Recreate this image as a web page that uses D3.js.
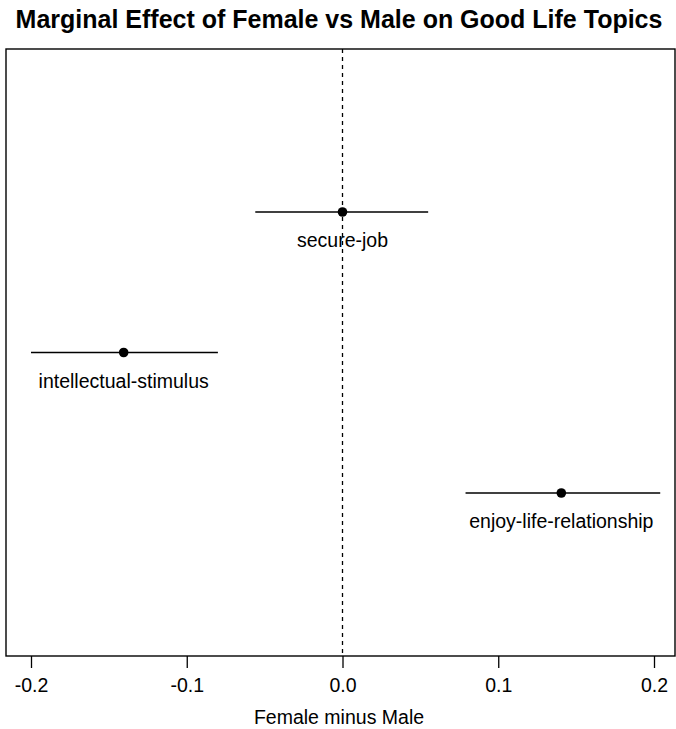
<!DOCTYPE html>
<html>
<head>
<meta charset="utf-8">
<script src="https://cdn.jsdelivr.net/npm/d3@7"></script>
<style>
  body { margin: 0; background: #fff; }
  text { font-family: "Liberation Sans", Arial, sans-serif; fill: #000; }
</style>
</head>
<body>
<svg id="chart" width="676" height="729"></svg>
<script>
// values
const topics = ["secure-job", "intellectual-stimulus", "enjoy-life-relationship"];
const estimates = [0.0, -0.1405, 0.1405];
const lower = [-0.056, -0.2, 0.079];
const upper = [0.055, -0.08, 0.204];
const xTicks = [-0.2, -0.1, 0.0, 0.1, 0.2];

const svg = d3.select("#chart");
const box = { left: 6, right: 675, top: 49, bottom: 656 };

const x = d3.scaleLinear().domain([-0.2, 0.2]).range([31, 654]);
const y = d3.scaleLinear().domain([-0.16, 4.16]).range([box.top, box.bottom]);

// title
svg.append("text")
    .attr("x", 339).attr("y", 28)
    .attr("text-anchor", "middle")
    .style("font-size", "25px").style("font-weight", "bold")
    .text("Marginal Effect of Female vs Male on Good Life Topics");

// zero reference line
svg.append("line")
    .attr("x1", x(0)).attr("x2", x(0))
    .attr("y1", box.top).attr("y2", box.bottom)
    .attr("stroke", "#000").attr("stroke-width", 1.3)
    .attr("stroke-dasharray", "4,4");

const rows = svg.append("g").selectAll("g")
    .data(topics)
    .enter().append("g");

rows.append("line")
    .attr("x1", (d, i) => x(lower[i]))
    .attr("x2", (d, i) => x(upper[i]))
    .attr("y1", (d, i) => y(i + 1))
    .attr("y2", (d, i) => y(i + 1))
    .attr("stroke", "#000").attr("stroke-width", 1.4);

rows.append("circle")
    .attr("cx", (d, i) => x(estimates[i]))
    .attr("cy", (d, i) => y(i + 1))
    .attr("r", 4.8)
    .attr("fill", "#000");

rows.append("text")
    .attr("x", (d, i) => x(estimates[i]))
    .attr("y", (d, i) => y(i + 1) + 35)
    .attr("text-anchor", "middle")
    .style("font-size", "19.5px")
    .text(d => d);

// frame
svg.append("rect")
    .attr("x", box.left).attr("y", box.top)
    .attr("width", box.right - box.left).attr("height", box.bottom - box.top)
    .attr("fill", "none").attr("stroke", "#000").attr("stroke-width", 1.4);

// x axis
const axis = svg.append("g")
    .attr("transform", `translate(0,${box.bottom})`)
    .call(d3.axisBottom(x).tickValues(xTicks).tickFormat(d3.format(".1f"))
        .tickSize(12).tickPadding(10));
axis.select(".domain").remove();
axis.selectAll(".tick line").attr("stroke", "#000").attr("stroke-width", 1.3);
axis.selectAll(".tick text")
    .style("font-family", "'Liberation Sans', Arial, sans-serif")
    .style("font-size", "19.5px")
    .text(d => d3.format(".1f")(d).replace("−", "-"));

svg.append("text")
    .attr("x", 339).attr("y", 724)
    .attr("text-anchor", "middle")
    .style("font-size", "19.5px")
    .text("Female minus Male");
</script>
</body>
</html>
